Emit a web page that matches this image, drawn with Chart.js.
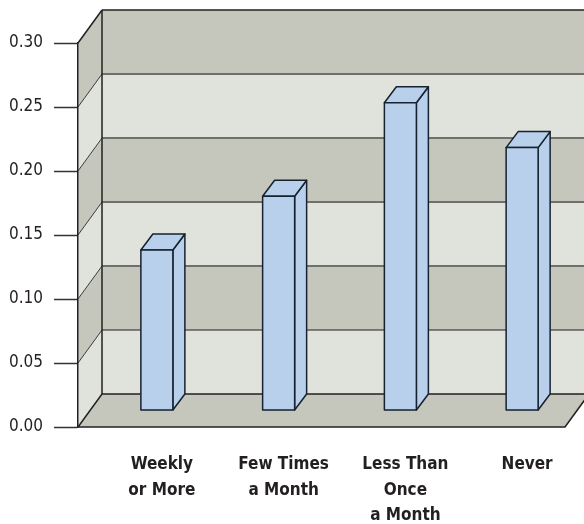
<!DOCTYPE html>
<html>
<head>
<meta charset="utf-8">
<script src="https://cdn.jsdelivr.net/npm/chart.js@4/dist/chart.umd.min.js"></script>
<style>
  html, body { margin: 0; padding: 0; background: #fff; }
  #wrap { width: 584px; height: 524px; }
</style>
</head>
<body>
<div id="wrap"><canvas id="freqChart"></canvas></div>
<script>
const categories = [
  ['Weekly', 'or More'],
  ['Few Times', 'a Month'],
  ['Less Than', 'Once', 'a Month'],
  ['Never']
];
const shares = [0.125, 0.167, 0.24, 0.205];
const yMin = 0;
const yMax = 0.30;
const yStep = 0.05;

const FONT = "'Liberation Sans Narrow', 'DejaVu Sans Condensed', sans-serif";
const INK = '#231f20';
const BAND_DARK = '#c5c7bc';
const BAND_LIGHT = '#e0e2dc';
const BAR_FILL = '#b9d0ec';
const BAR_EDGE = '#16222f';

// depth of the floor / walls, and where the bar boxes sit inside it
const DEPTH = { x: 24, y: -33 };
const BAR_SHIFT = { x: 18, y: -17 };
const BAR_DEPTH = { x: 12, y: -16 };

function poly(ctx, pts, fill, stroke, lw) {
  ctx.beginPath();
  ctx.moveTo(pts[0][0], pts[0][1]);
  for (let i = 1; i < pts.length; i++) ctx.lineTo(pts[i][0], pts[i][1]);
  ctx.closePath();
  if (fill) { ctx.fillStyle = fill; ctx.fill(); }
  if (stroke) { ctx.strokeStyle = stroke; ctx.lineWidth = lw || 1; ctx.stroke(); }
}

function line(ctx, x0, y0, x1, y1, color, lw) {
  ctx.beginPath();
  ctx.moveTo(x0, y0);
  ctx.lineTo(x1, y1);
  ctx.strokeStyle = color;
  ctx.lineWidth = lw;
  ctx.stroke();
}

const box3d = {
  id: 'box3d',
  beforeDraw(chart) {
    const { ctx, chartArea: a, scales: { y } } = chart;
    const dx = DEPTH.x, dy = DEPTH.y;
    const vals = y.ticks.map(t => t.value);
    ctx.save();
    ctx.lineJoin = 'miter';

    // banded back wall and left side wall
    for (let i = 0; i < vals.length - 1; i++) {
      const yb = y.getPixelForValue(vals[i]);
      const yt = y.getPixelForValue(vals[i + 1]);
      const fill = i % 2 ? BAND_DARK : BAND_LIGHT;
      ctx.fillStyle = fill;
      ctx.fillRect(a.left + dx, yt + dy, a.right - a.left, yb - yt);
      poly(ctx, [[a.left, yb], [a.left + dx, yb + dy], [a.left + dx, yt + dy], [a.left, yt]], fill);
    }

    // band boundaries
    for (let i = 1; i < vals.length - 1; i++) {
      const yp = y.getPixelForValue(vals[i]);
      const back = i === 1 ? INK : '#6f706b';
      line(ctx, a.left + dx, yp + dy, a.right + dx, yp + dy, back, i === 1 ? 1.2 : 2);
      line(ctx, a.left, yp, a.left + dx, yp + dy, '#3a3a38', 1);
    }

    // floor
    poly(ctx, [[a.left, a.bottom], [a.right, a.bottom], [a.right + dx, a.bottom + dy], [a.left + dx, a.bottom + dy]],
      BAND_DARK, INK, 1.5);

    // frame edges
    line(ctx, a.left + dx, a.top + dy, a.left + dx, a.bottom + dy, INK, 1.5);
    line(ctx, a.left, a.top, a.left + dx, a.top + dy, INK, 1.5);
    line(ctx, a.left + dx, a.top + dy, a.right + dx, a.top + dy, INK, 1.5);
    ctx.restore();
  },
  afterDatasetsDraw(chart) {
    const { ctx, scales: { y } } = chart;
    const meta = chart.getDatasetMeta(0);
    const data = chart.data.datasets[0].data;
    const dx = BAR_DEPTH.x, dy = BAR_DEPTH.y;
    const base = y.getPixelForValue(0) + BAR_SHIFT.y;
    ctx.save();
    ctx.lineJoin = 'round';
    meta.data.forEach((el, i) => {
      const x0 = el.x - el.width / 2 + BAR_SHIFT.x;
      const x1 = x0 + el.width;
      const top = y.getPixelForValue(data[i]) + BAR_SHIFT.y;
      poly(ctx, [[x1, base], [x1 + dx, base + dy], [x1 + dx, top + dy], [x1, top]], BAR_FILL, BAR_EDGE, 1.5);
      poly(ctx, [[x0, top], [x0 + dx, top + dy], [x1 + dx, top + dy], [x1, top]], BAR_FILL, BAR_EDGE, 1.5);
      poly(ctx, [[x0, base], [x1, base], [x1, top], [x0, top]], BAR_FILL, BAR_EDGE, 1.5);
    });
    ctx.restore();
  }
};

new Chart(document.getElementById('freqChart'), {
  type: 'bar',
  data: {
    labels: categories,
    datasets: [{
      data: shares,
      backgroundColor: 'rgba(0,0,0,0)',
      borderWidth: 0,
      barThickness: 32
    }]
  },
  options: {
    responsive: true,
    maintainAspectRatio: false,
    animation: false,
    events: [],
    layout: { padding: { top: 43, right: 19, left: 0, bottom: 0 } },
    plugins: { legend: { display: false }, tooltip: { enabled: false } },
    scales: {
      x: {
        grid: { display: false, drawTicks: false },
        border: { display: false },
        ticks: {
          color: INK,
          font: { family: FONT, size: 17, weight: 'bold', lineHeight: 1.5 },
          padding: 25,
          labelOffset: 23,
          maxRotation: 0,
          autoSkip: false
        },
        afterFit(s) { s.height = 97; }
      },
      y: {
        min: yMin,
        max: yMax,
        grid: { drawOnChartArea: false, tickLength: 24, tickColor: '#333', tickWidth: 1.5 },
        border: { color: INK, width: 1.5 },
        ticks: {
          stepSize: yStep,
          color: INK,
          padding: 11,
          font: { family: FONT, size: 17 },
          callback: v => v.toFixed(2)
        },
        afterFit(s) { s.width = 78; }
      }
    }
  },
  plugins: [box3d]
});
</script>
</body>
</html>
